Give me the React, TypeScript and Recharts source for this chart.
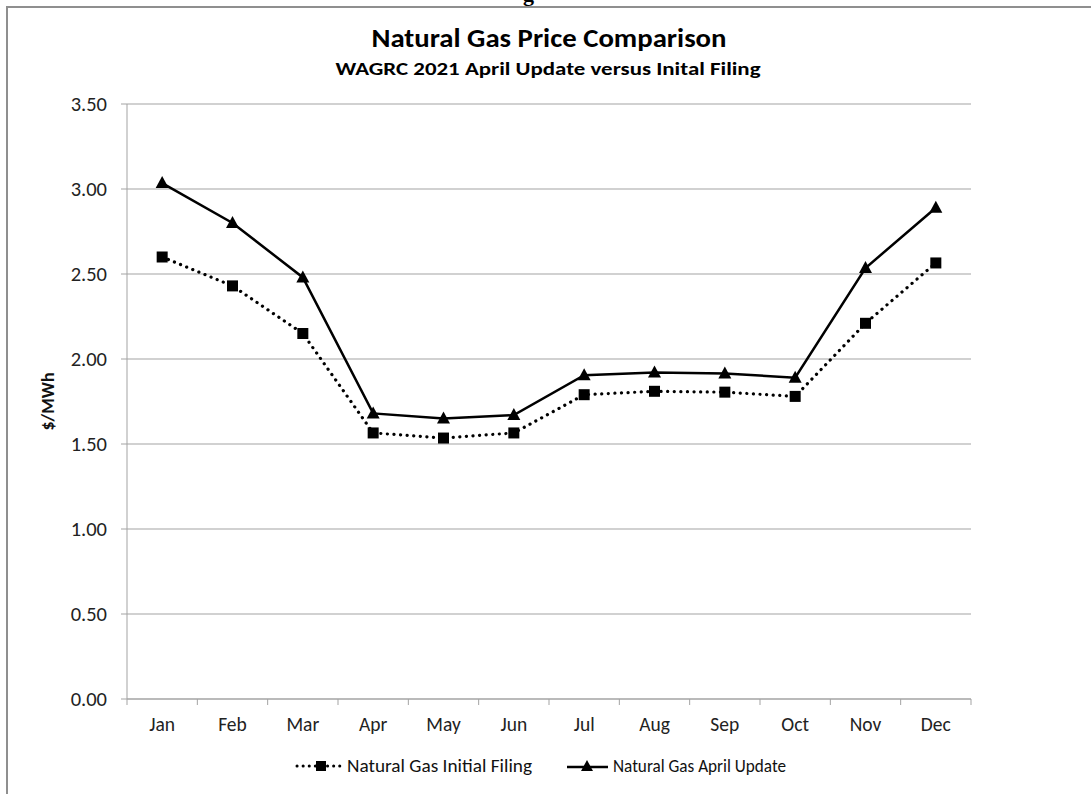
import React from 'react';
import { LineChart, Line, XAxis, YAxis, CartesianGrid, Legend } from 'recharts';

const months = ['Jan', 'Feb', 'Mar', 'Apr', 'May', 'Jun', 'Jul', 'Aug', 'Sep', 'Oct', 'Nov', 'Dec'];
const initialFiling = [2.6, 2.43, 2.15, 1.565, 1.535, 1.565, 1.79, 1.81, 1.805, 1.78, 2.21, 2.565];
const aprilUpdate = [3.035, 2.8, 2.48, 1.68, 1.65, 1.67, 1.905, 1.92, 1.915, 1.89, 2.535, 2.89];
const yTicks = [0, 0.5, 1, 1.5, 2, 2.5, 3, 3.5];
const seriesNames = ['Natural Gas Initial Filing', 'Natural Gas April Update'];
const titleText = 'Natural Gas Price Comparison';
const subtitleText = 'WAGRC 2021 April Update versus Inital Filing';
const yLabelText = '$/MWh';

const data = months.map((m, i) => ({ month: m, initial: initialFiling[i], update: aprilUpdate[i] }));

const FONT = "Carlito, Calibri, Lato, 'Noto Sans', sans-serif";
const GRID = '#a3a3a3';

const SquareDot = (props: any) => {
  const { cx, cy } = props;
  if (cx == null || cy == null) return null;
  return <rect x={cx - 5.5} y={cy - 5.5} width={11} height={11} fill="#000" />;
};

const TriangleDot = (props: any) => {
  const { cx, cy } = props;
  if (cx == null || cy == null) return null;
  return <polygon points={`${cx},${cy - 7} ${cx - 6.5},${cy + 5} ${cx + 6.5},${cy + 5}`} fill="#000" />;
};

const XTick = (props: any) => {
  const { x, y, payload, index, visibleTicksCount, width } = props;
  const half = width / visibleTicksCount / 2;
  return (
    <g>
      <line x1={x - half} x2={x - half} y1={y} y2={y + 6} stroke={GRID} />
      {index === visibleTicksCount - 1 && <line x1={x + half} x2={x + half} y1={y} y2={y + 6} stroke={GRID} />}
      <text x={x} y={y + 32} textAnchor="middle" fontSize={19.5} fill="#222" fontFamily={FONT}>
        {payload.value}
      </text>
    </g>
  );
};

const YLabel = (props: any) => {
  const { viewBox } = props;
  const cx = viewBox.x + 48;
  const cy = viewBox.y + viewBox.height / 2;
  return (
    <text x={cx} y={cy} transform={`rotate(-90 ${cx} ${cy})`} textAnchor="middle" dominantBaseline="central" fontSize={18} fontWeight="bold" fill="#111" fontFamily={FONT} textLength={58} lengthAdjust="spacingAndGlyphs">
      {yLabelText}
    </text>
  );
};

const LegendContent = () => (
  <svg width={1091} height={30} style={{ position: 'absolute', left: 0, top: 0, overflow: 'visible' }}>
    <line x1={297} x2={341} y1={9} y2={9} stroke="#000" strokeWidth={3} strokeDasharray="0.1 6" strokeLinecap="round" />
    <rect x={316} y={4} width={10} height={10} fill="#000" />
    <text x={347} y={15} fontSize={17.5} fill="#111" fontFamily={FONT} textLength={185} lengthAdjust="spacingAndGlyphs">{seriesNames[0]}</text>
    <line x1={567} x2={608} y1={10} y2={10} stroke="#000" strokeWidth={2.5} />
    <polygon points="587,3 581,14 593,14" fill="#000" />
    <text x={613} y={15} fontSize={17.5} fill="#111" fontFamily={FONT} textLength={173} lengthAdjust="spacingAndGlyphs">{seriesNames[1]}</text>
  </svg>
);

export default function App() {
  return (
    <div style={{ position: 'absolute', left: 0, top: 0, width: 1091, height: 794, background: '#fff', overflow: 'hidden' }}>
      <div style={{ position: 'absolute', left: 515, top: 0, width: 40, height: 6, overflow: 'hidden' }}>
        <span style={{ position: 'absolute', left: 8, top: -17, fontFamily: "'Liberation Serif', serif", fontWeight: 'bold', fontSize: 22, lineHeight: '22px' }}>g</span>
      </div>
      <div style={{ position: 'absolute', left: 6, top: 6, width: 1100, height: 800, borderLeft: '2px solid #8f8f8f', borderTop: '2px solid #8f8f8f' }} />
      <svg width={1091} height={90} style={{ position: 'absolute', left: 0, top: 0 }}>
        <text x={549} y={47} textAnchor="middle" fontSize={26} fontWeight="bold" fill="#000" fontFamily={FONT} textLength={355} lengthAdjust="spacingAndGlyphs">{titleText}</text>
        <text x={548} y={75} textAnchor="middle" fontSize={18.5} fontWeight="bold" fill="#000" fontFamily={FONT} textLength={425} lengthAdjust="spacingAndGlyphs">{subtitleText}</text>
      </svg>
      <div style={{ position: 'absolute', left: 0, top: 0 }}>
        <LineChart width={1091} height={794} data={data} margin={{ top: 104, right: 120, left: 0, bottom: 65 }}>
          <CartesianGrid vertical={false} stroke={GRID} />
          <XAxis dataKey="month" scale="band" height={30} axisLine={{ stroke: GRID }} tickLine={false} tickSize={0} tickMargin={0} tick={<XTick />} interval={0} />
          <YAxis width={127} domain={[0, 3.5]} ticks={yTicks} tickFormatter={(v: number) => v.toFixed(2)} axisLine={{ stroke: GRID }} tickLine={{ stroke: GRID }} tickSize={6} tickMargin={14} tick={{ fontSize: 20.5, fill: '#222', fontFamily: FONT }} label={<YLabel />} />
          <Legend verticalAlign="bottom" content={<LegendContent />} wrapperStyle={{ position: 'absolute', left: 0, top: 757, width: 1091, height: 0, overflow: 'visible' }} />
          <Line type="linear" dataKey="initial" name={seriesNames[0]} stroke="#000" strokeWidth={3.2} strokeDasharray="0.1 6.5" strokeLinecap="round" dot={<SquareDot />} activeDot={false} isAnimationActive={false} />
          <Line type="linear" dataKey="update" name={seriesNames[1]} stroke="#000" strokeWidth={2.5} dot={<TriangleDot />} activeDot={false} isAnimationActive={false} />
        </LineChart>
      </div>
    </div>
  );
}
